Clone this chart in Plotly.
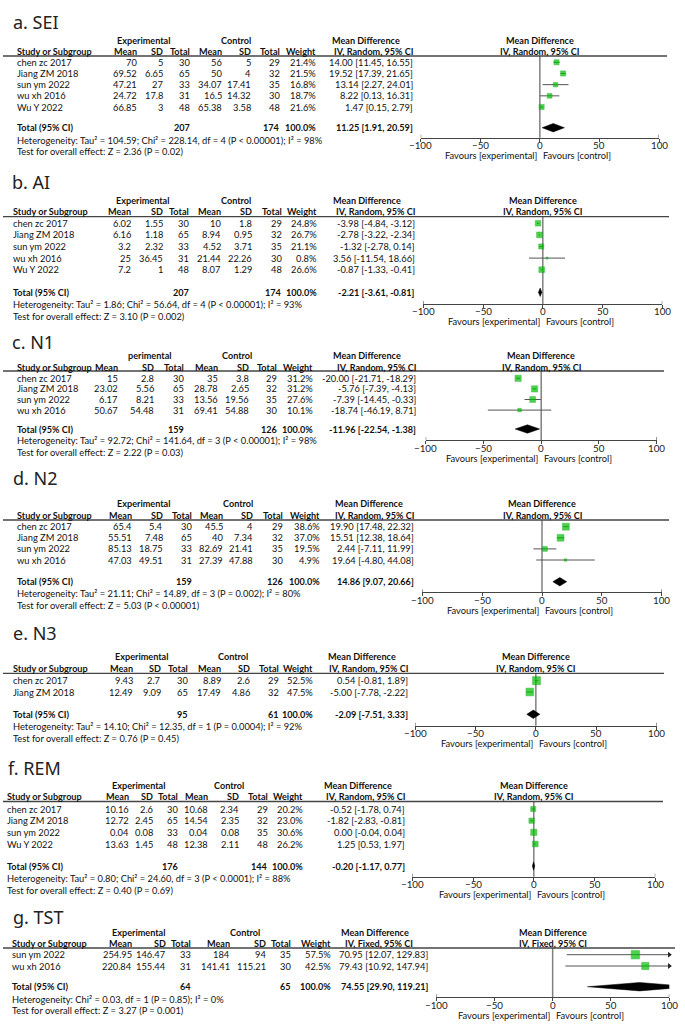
import plotly.graph_objects as go
import math

W, H = 685, 1027
FONT = "Lato, Open Sans, Noto Sans, sans-serif"
TFONT = "Noto Sans, Open Sans, sans-serif"
FS = 9.3
HFS = 9.1

# ---------------- a. SEI ----------------
sei_study = ["chen zc 2017", "Jiang ZM 2018", "sun ym 2022", "wu xh 2016", "Wu Y 2022"]
sei_exp_mean = [70, 69.52, 47.21, 24.72, 66.85]
sei_exp_sd = [5, 6.65, 27, 17.8, 3]
sei_exp_n = [30, 65, 33, 31, 48]
sei_ctl_mean = [56, 50, 34.07, 16.5, 65.38]
sei_ctl_sd = [5, 4, 17.41, 14.32, 3.58]
sei_ctl_n = [29, 32, 35, 30, 48]
sei_weight = [21.4, 21.5, 16.8, 18.7, 21.6]
sei_md = [14.00, 19.52, 13.14, 8.22, 1.47]
sei_lo = [11.45, 17.39, 2.27, 0.13, 0.15]
sei_hi = [16.55, 21.65, 24.01, 16.31, 2.79]
sei_total = [207, 174, 100.0, 11.25, 1.91, 20.59]
sei_het = "Heterogeneity: Tau² = 104.59; Chi² = 228.14, df = 4 (P < 0.00001); I² = 98%"
sei_test = "Test for overall effect: Z = 2.36 (P = 0.02)"

# ---------------- b. AI ----------------
ai_study = ["chen zc 2017", "Jiang ZM 2018", "sun ym 2022", "wu xh 2016", "Wu Y 2022"]
ai_exp_mean = [6.02, 6.16, 3.2, 25, 7.2]
ai_exp_sd = [1.55, 1.18, 2.32, 36.45, 1]
ai_exp_n = [30, 65, 33, 31, 48]
ai_ctl_mean = [10, 8.94, 4.52, 21.44, 8.07]
ai_ctl_sd = [1.8, 0.95, 3.71, 22.26, 1.29]
ai_ctl_n = [29, 32, 35, 30, 48]
ai_weight = [24.8, 26.7, 21.1, 0.8, 26.6]
ai_md = [-3.98, -2.78, -1.32, 3.56, -0.87]
ai_lo = [-4.84, -3.22, -2.78, -11.54, -1.33]
ai_hi = [-3.12, -2.34, 0.14, 18.66, -0.41]
ai_total = [207, 174, 100.0, -2.21, -3.61, -0.81]
ai_het = "Heterogeneity: Tau² = 1.86; Chi² = 56.64, df = 4 (P < 0.00001); I² = 93%"
ai_test = "Test for overall effect: Z = 3.10 (P = 0.002)"

# ---------------- c. N1 ----------------
n1_study = ["chen zc 2017", "Jiang ZM 2018", "sun ym 2022", "wu xh 2016"]
n1_exp_mean = [15, 23.02, 6.17, 50.67]
n1_exp_sd = [2.8, 5.56, 8.21, 54.48]
n1_exp_n = [30, 65, 33, 31]
n1_ctl_mean = [35, 28.78, 13.56, 69.41]
n1_ctl_sd = [3.8, 2.65, 19.56, 54.88]
n1_ctl_n = [29, 32, 35, 30]
n1_weight = [31.2, 31.2, 27.6, 10.1]
n1_md = [-20.00, -5.76, -7.39, -18.74]
n1_lo = [-21.71, -7.39, -14.45, -46.19]
n1_hi = [-18.29, -4.13, -0.33, 8.71]
n1_total = [159, 126, 100.0, -11.96, -22.54, -1.38]
n1_het = "Heterogeneity: Tau² = 92.72; Chi² = 141.64, df = 3 (P < 0.00001); I² = 98%"
n1_test = "Test for overall effect: Z = 2.22 (P = 0.03)"

# ---------------- d. N2 ----------------
n2_study = ["chen zc 2017", "Jiang ZM 2018", "sun ym 2022", "wu xh 2016"]
n2_exp_mean = [65.4, 55.51, 85.13, 47.03]
n2_exp_sd = [5.4, 7.48, 18.75, 49.51]
n2_exp_n = [30, 65, 33, 31]
n2_ctl_mean = [45.5, 40, 82.69, 27.39]
n2_ctl_sd = [4, 7.34, 21.41, 47.88]
n2_ctl_n = [29, 32, 35, 30]
n2_weight = [38.6, 37.0, 19.5, 4.9]
n2_md = [19.90, 15.51, 2.44, 19.64]
n2_lo = [17.48, 12.38, -7.11, -4.80]
n2_hi = [22.32, 18.64, 11.99, 44.08]
n2_total = [159, 126, 100.0, 14.86, 9.07, 20.66]
n2_het = "Heterogeneity: Tau² = 21.11; Chi² = 14.89, df = 3 (P = 0.002); I² = 80%"
n2_test = "Test for overall effect: Z = 5.03 (P < 0.00001)"

# ---------------- e. N3 ----------------
n3_study = ["chen zc 2017", "Jiang ZM 2018"]
n3_exp_mean = [9.43, 12.49]
n3_exp_sd = [2.7, 9.09]
n3_exp_n = [30, 65]
n3_ctl_mean = [8.89, 17.49]
n3_ctl_sd = [2.6, 4.86]
n3_ctl_n = [29, 32]
n3_weight = [52.5, 47.5]
n3_md = [0.54, -5.00]
n3_lo = [-0.81, -7.78]
n3_hi = [1.89, -2.22]
n3_total = [95, 61, 100.0, -2.09, -7.51, 3.33]
n3_het = "Heterogeneity: Tau² = 14.10; Chi² = 12.35, df = 1 (P = 0.0004); I² = 92%"
n3_test = "Test for overall effect: Z = 0.76 (P = 0.45)"

# ---------------- f. REM ----------------
rem_study = ["chen zc 2017", "Jiang ZM 2018", "sun ym 2022", "Wu Y 2022"]
rem_exp_mean = [10.16, 12.72, 0.04, 13.63]
rem_exp_sd = [2.6, 2.45, 0.08, 1.45]
rem_exp_n = [30, 65, 33, 48]
rem_ctl_mean = [10.68, 14.54, 0.04, 12.38]
rem_ctl_sd = [2.34, 2.35, 0.08, 2.11]
rem_ctl_n = [29, 32, 35, 48]
rem_weight = [20.2, 23.0, 30.6, 26.2]
rem_md = [-0.52, -1.82, 0.00, 1.25]
rem_lo = [-1.78, -2.83, -0.04, 0.53]
rem_hi = [0.74, -0.81, 0.04, 1.97]
rem_total = [176, 144, 100.0, -0.20, -1.17, 0.77]
rem_het = "Heterogeneity: Tau² = 0.80; Chi² = 24.60, df = 3 (P < 0.0001); I² = 88%"
rem_test = "Test for overall effect: Z = 0.40 (P = 0.69)"

# ---------------- g. TST ----------------
tst_study = ["sun ym 2022", "wu xh 2016"]
tst_exp_mean = [254.95, 220.84]
tst_exp_sd = [146.47, 155.44]
tst_exp_n = [33, 31]
tst_ctl_mean = [184, 141.41]
tst_ctl_sd = [94, 115.21]
tst_ctl_n = [35, 30]
tst_weight = [57.5, 42.5]
tst_md = [70.95, 79.43]
tst_lo = [12.07, 10.92]
tst_hi = [129.83, 147.94]
tst_total = [64, 65, 100.0, 74.55, 29.90, 119.21]
tst_het = "Heterogeneity: Chi² = 0.03, df = 1 (P = 0.85); I² = 0%"
tst_test = "Test for overall effect: Z = 3.27 (P = 0.001)"

tick_vals = [-100, -50, 0, 50, 100]
tick_text = ["\u2212100", "\u221250", "0", "50", "100"]
fav_left = "Favours [experimental]"
fav_right = "Favours [control]"
col_heads = ["Mean", "SD", "Total", "Mean", "SD", "Total", "Weight"]

panels = [
    dict(title="a. SEI", exp_label="Experimental", method="IV, Random, 95% CI",
         study=sei_study, em=sei_exp_mean, es=sei_exp_sd, en=sei_exp_n, cm=sei_ctl_mean, cs=sei_ctl_sd, cn=sei_ctl_n,
         w=sei_weight, md=sei_md, lo=sei_lo, hi=sei_hi, tot=sei_total, het=sei_het, test=sei_test,
         L=dict(tx=13, ty=22, h1=40.7, h2=51.7, line=56, row0=62.3, sp=11.18, total=127.7, het=140, test=151.3,
                axis=137.7, fxm=420.7, fxp=659, lend=667, sx=17,
                cols=[137, 163, 190, 222, 251, 280, 316, 413], ec=144, cc=236, mc=366)),
    dict(title="b. AI", exp_label="Experimental", method="IV, Random, 95% CI",
         study=ai_study, em=ai_exp_mean, es=ai_exp_sd, en=ai_exp_n, cm=ai_ctl_mean, cs=ai_ctl_sd, cn=ai_ctl_n,
         w=ai_weight, md=ai_md, lo=ai_lo, hi=ai_hi, tot=ai_total, het=ai_het, test=ai_test,
         L=dict(tx=12, ty=181.7, h1=200.7, h2=211.7, line=216.7, row0=223.3, sp=11.6, total=292.3, het=304.3, test=316,
                axis=304, fxm=423.3, fxp=662.3, lend=669, sx=13,
                cols=[131, 163, 189, 221, 252, 282, 317, 415], ec=143, cc=236, mc=367)),
    dict(title="c. N1", exp_label="perimental", method="IV, Random, 95% CI",
         study=n1_study, em=n1_exp_mean, es=n1_exp_sd, en=n1_exp_n, cm=n1_ctl_mean, cs=n1_ctl_sd, cn=n1_ctl_n,
         w=n1_weight, md=n1_md, lo=n1_lo, hi=n1_hi, tot=n1_total, het=n1_het, test=n1_test,
         L=dict(tx=12, ty=341.7, h1=355.7, h2=367.3, line=371, row0=378.3, sp=10.6, total=429, het=440.7, test=452.3,
                axis=440, fxm=425.7, fxp=656.7, lend=664, sx=17,
                cols=[118, 154, 184, 218, 249, 277, 313, 416], ec=150, cc=237, mc=367)),
    dict(title="d. N2", exp_label="Experimental", method="IV, Random, 95% CI",
         study=n2_study, em=n2_exp_mean, es=n2_exp_sd, en=n2_exp_n, cm=n2_ctl_mean, cs=n2_ctl_sd, cn=n2_ctl_n,
         w=n2_weight, md=n2_md, lo=n2_lo, hi=n2_hi, tot=n2_total, het=n2_het, test=n2_test,
         L=dict(tx=13, ty=478.3, h1=503.3, h2=515, line=520, row0=526.7, sp=11.1, total=581.7, het=593.3, test=605,
                axis=592.3, fxm=422.3, fxp=661.7, lend=669, sx=17,
                cols=[132, 163, 192, 223, 253, 283, 320, 414], ec=144, cc=238, mc=369)),
    dict(title="e. N3", exp_label="Experimental", method="IV, Random, 95% CI",
         study=n3_study, em=n3_exp_mean, es=n3_exp_sd, en=n3_exp_n, cm=n3_ctl_mean, cs=n3_ctl_sd, cn=n3_ctl_n,
         w=n3_weight, md=n3_md, lo=n3_lo, hi=n3_hi, tot=n3_total, het=n3_het, test=n3_test,
         L=dict(tx=13, ty=633.3, h1=656.7, h2=668.3, line=673.3, row0=680.7, sp=11.3, total=714.3, het=726.7, test=738.3,
                axis=725.7, fxm=415, fxp=656.7, lend=664, sx=13,
                cols=[133, 161, 188, 221, 250, 279, 313, 408], ec=142, cc=233, mc=362)),
    dict(title="f. REM", exp_label="Experimental", method="IV, Random, 95% CI",
         study=rem_study, em=rem_exp_mean, es=rem_exp_sd, en=rem_exp_n, cm=rem_ctl_mean, cs=rem_ctl_sd, cn=rem_ctl_n,
         w=rem_weight, md=rem_md, lo=rem_lo, hi=rem_hi, tot=rem_total, het=rem_het, test=rem_test,
         L=dict(tx=8, ty=768.3, h1=785, h2=796, line=801.5, row0=809, sp=11.67, total=866, het=878.3, test=890,
                axis=876.7, fxm=412.3, fxp=655.3, lend=663, sx=7,
                cols=[129, 153, 178, 208, 239, 268, 303, 405], ec=139, cc=229, mc=358)),
    dict(title="g. TST", exp_label="Experimental", method="IV, Fixed, 95% CI",
         study=tst_study, em=tst_exp_mean, es=tst_exp_sd, en=tst_exp_n, cm=tst_ctl_mean, cs=tst_ctl_sd, cn=tst_ctl_n,
         w=tst_weight, md=tst_md, lo=tst_lo, hi=tst_hi, tot=tst_total, het=tst_het, test=tst_test,
         L=dict(tx=13, ty=916.7, h1=932.3, h2=943, line=948, row0=954.7, sp=11.3, total=986.7, het=999.3, test=1010.7,
                axis=997.3, fxm=436, fxp=669.3, lend=675, sx=12,
                cols=[132, 166, 191, 230, 266, 291, 331, 428], ec=139, cc=245, mc=375, ch=413)),
]


def X(x):
    return x / W


def Y(y):
    return 1 - y / H


annotations = []
shapes = []
fig = go.Figure()


def txt(x, y, s, anchor="left", size=FS, bold=False, color="#111", family=FONT):
    annotations.append(dict(
        x=X(x), y=Y(y), xref="paper", yref="paper",
        text=f"<b>{s}</b>" if bold else s, showarrow=False,
        xanchor=anchor, yanchor="middle", borderpad=0, borderwidth=0,
        font=dict(size=size, family=family, color=color)))


def ci_str(m, l, h):
    return f"{m:.2f} [{l:.2f}, {h:.2f}]"


GREEN = "#00c000"
layout_axes = {}

for k, p in enumerate(panels, start=1):
    L = p["L"]
    cols = L["cols"]
    fx0 = (L["fxm"] + L["fxp"]) / 2
    # title
    txt(L["tx"], L["ty"], p["title"], size=18, color="#222", family=TFONT)
    # header row 1
    txt(L["ec"], L["h1"], p["exp_label"], anchor="center", bold=True, size=HFS)
    txt(L["cc"], L["h1"], "Control", anchor="center", bold=True, size=HFS)
    txt(L["mc"], L["h1"], "Mean Difference", anchor="center", bold=True, size=HFS)
    txt(fx0, L["h1"], "Mean Difference", anchor="center", bold=True, size=HFS)
    # header row 2
    txt(L["sx"], L["h2"], "Study or Subgroup", bold=True, size=HFS)
    for c, h in zip(cols[:7], col_heads):
        txt(c, L["h2"], h, anchor="right", bold=True, size=HFS)
    txt(L.get("ch", cols[7]), L["h2"], p["method"], anchor="right", bold=True, size=HFS)
    txt(fx0, L["h2"], p["method"], anchor="center", bold=True, size=HFS)
    # header rule
    shapes.append(dict(type="line", xref="paper", yref="paper", x0=X(3), x1=X(L["lend"]),
                       y0=Y(L["line"]), y1=Y(L["line"]), line=dict(color="#444", width=1.3)))
    # study rows
    n = len(p["study"])
    for i in range(n):
        y = L["row0"] + i * L["sp"]
        txt(L["sx"], y, p["study"][i])
        vals = [p["em"][i], p["es"][i], p["en"][i], p["cm"][i], p["cs"][i], p["cn"][i]]
        for c, v in zip(cols[:6], vals):
            txt(c, y, str(v), anchor="right")
        txt(cols[6], y, f"{p['w'][i]:.1f}%", anchor="right")
        txt(cols[7], y, ci_str(p["md"][i], p["lo"][i], p["hi"][i]), anchor="right")
    # total row
    t = p["tot"]
    txt(L["sx"], L["total"], "Total (95% CI)", bold=True, size=HFS)
    txt(cols[2], L["total"], str(t[0]), anchor="right", bold=True, size=HFS)
    txt(cols[5], L["total"], str(t[1]), anchor="right", bold=True, size=HFS)
    txt(cols[6], L["total"], f"{t[2]:.1f}%", anchor="right", bold=True, size=HFS)
    txt(cols[7], L["total"], ci_str(t[3], t[4], t[5]), anchor="right", bold=True, size=HFS)
    txt(L["sx"], L["het"], p["het"])
    txt(L["sx"], L["test"], p["test"])

    # ---- forest subplot ----
    xa = "x" if k == 1 else f"x{k}"
    ya = "y" if k == 1 else f"y{k}"
    v_bot = (L["axis"] - L["row0"]) / L["sp"]
    v_top = (L["line"] - L["row0"]) / L["sp"]
    v_tot = (L["total"] - L["row0"]) / L["sp"]
    rows = list(range(n))

    # CI lines
    lx, ly = [], []
    for i in rows:
        lx += [p["lo"][i], p["hi"][i], None]
        ly += [i, i, None]
    fig.add_trace(go.Scatter(x=lx, y=ly, mode="lines", line=dict(color="#555", width=1),
                             xaxis=xa, yaxis=ya, showlegend=False, hoverinfo="skip"))
    # weighted squares
    fig.add_trace(go.Scatter(x=p["md"], y=rows, mode="markers",
                             marker=dict(symbol="square", color=GREEN,
                                         size=[max(2, 1.12 * math.sqrt(w)) for w in p["w"]],
                                         line=dict(color="#009a00", width=0.5)),
                             xaxis=xa, yaxis=ya, showlegend=False))
    # arrows for CIs beyond the axis
    ax_, ay_ = [], []
    for i in rows:
        if p["hi"][i] > tick_vals[-1]:
            ax_.append(tick_vals[-1])
            ay_.append(i)
    if ax_:
        fig.add_trace(go.Scatter(x=ax_, y=ay_, mode="markers", cliponaxis=False,
                                 marker=dict(symbol="triangle-right", size=5, color="#222"),
                                 xaxis=xa, yaxis=ya, showlegend=False, hoverinfo="skip"))
    # pooled diamond
    dh = 4.2 / L["sp"]
    fig.add_trace(go.Scatter(x=[t[4], t[3], t[5], t[3], t[4]],
                             y=[v_tot, v_tot - dh, v_tot, v_tot + dh, v_tot],
                             mode="lines", fill="toself", fillcolor="#000",
                             line=dict(color="#000", width=0.5),
                             xaxis=xa, yaxis=ya, showlegend=False, hoverinfo="skip"))
    # zero line
    shapes.append(dict(type="line", xref=xa, yref=f"{ya} domain", x0=0, x1=0, y0=0, y1=1,
                       layer="below", line=dict(color="#808080", width=1.5)))
    # taller end ticks
    for tv in (tick_vals[0], tick_vals[-1]):
        shapes.append(dict(type="line", xref=xa, yref="paper", x0=tv, x1=tv,
                           y0=Y(L["axis"]), y1=Y(L["axis"] - 3), line=dict(color="#444", width=1)))
    # tick labels
    for tv, tt in zip(tick_vals, tick_text):
        annotations.append(dict(x=tv, y=Y(L["axis"] + 7.5), xref=xa, yref="paper", text=tt, showarrow=False,
                                xanchor="center", yanchor="middle", borderpad=0, borderwidth=0,
                                font=dict(size=9.8, family=FONT, color="#222")))
    # favours labels
    for s, anc, sh in ((fav_left, "right", -3), (fav_right, "left", 3)):
        annotations.append(dict(x=0, y=Y(L["axis"] + 18), xref=xa, yref="paper", text=s, showarrow=False,
                                xanchor=anc, yanchor="middle", xshift=sh, borderpad=0, borderwidth=0,
                                font=dict(size=FS, family=FONT, color="#111")))

    xkey = "xaxis" if k == 1 else f"xaxis{k}"
    ykey = "yaxis" if k == 1 else f"yaxis{k}"
    layout_axes[xkey] = dict(domain=[X(L["fxm"]), X(L["fxp"])], range=[tick_vals[0], tick_vals[-1]],
                             anchor=ya, showline=True, linecolor="#444", linewidth=1,
                             ticks="outside", ticklen=3, tickcolor="#444", tickwidth=1,
                             tickvals=tick_vals, showticklabels=False,
                             showgrid=False, zeroline=False, fixedrange=True)
    layout_axes[ykey] = dict(domain=[Y(L["axis"]), Y(L["line"])], range=[v_bot, v_top],
                             anchor=xa, visible=False, showgrid=False, zeroline=False, fixedrange=True)

fig.update_layout(
    width=W, height=H, margin=dict(l=0, r=0, t=0, b=0),
    paper_bgcolor="white", plot_bgcolor="rgba(0,0,0,0)",
    showlegend=False, annotations=annotations, shapes=shapes,
    **layout_axes,
)

fig.write_html("out.html", post_script="document.body.style.margin='0';",
               config=dict(displayModeBar=False))
